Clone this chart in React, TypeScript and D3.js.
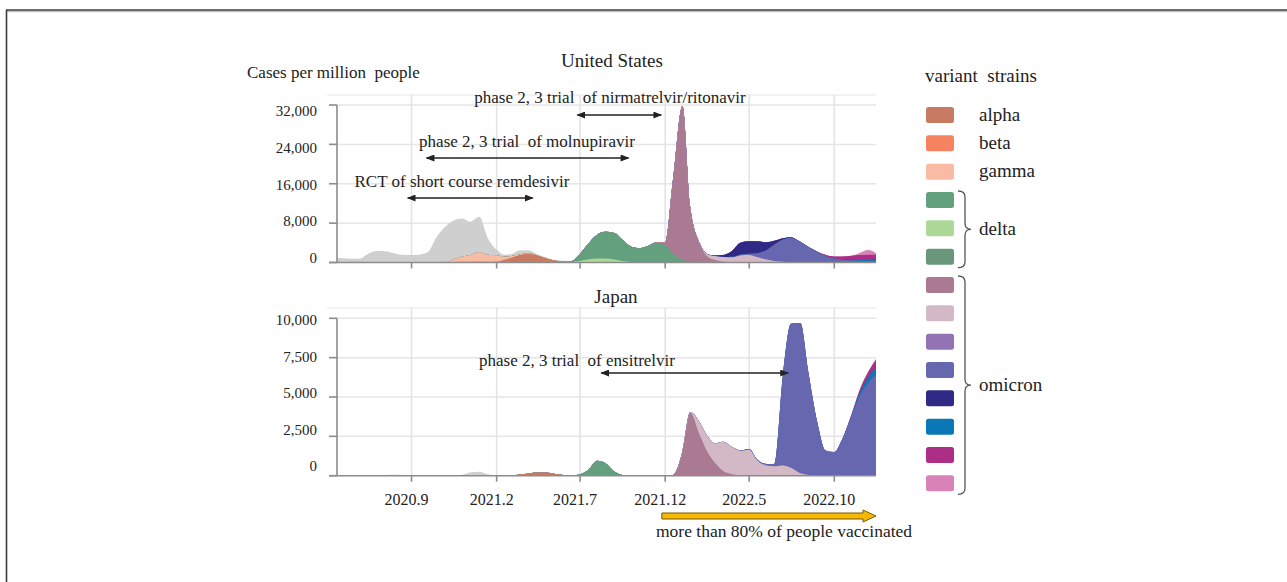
import React from 'react';
import * as d3 from 'd3';

// ---------- DATA ----------
const MONTHS = [
  '2020-04', '2020-05', '2020-06', '2020-07', '2020-08', '2020-09', '2020-10', '2020-11', '2020-12',
  '2021-01', '2021-02', '2021-03', '2021-04', '2021-05', '2021-06', '2021-07', '2021-08', '2021-09', '2021-10', '2021-11', '2021-12',
  '2022-01', '2022-02', '2022-03', '2022-04', '2022-05', '2022-06', '2022-07', '2022-08', '2022-09', '2022-10', '2022-11', '2022-12',
];
const parse = d3.timeParse('%Y-%m-%d');
const DATES: Date[] = MONTHS.flatMap((m) => [m + '-01', m + '-15']).map((s) => parse(s) as Date);

type Series = { key: string; start: number; values: number[] }; // values in thousand cases / million

const US_OTHER: Series = { key: 'other', start: 0, values: [0.9, 0.9, 0.85, 0.75, 0.8, 1.8, 2.35, 2.3, 1.9, 1.55, 1.5, 1.6, 2.2, 5.0, 7.3, 7.9, 7.8, 6.85, 7.2, 3.65, 1.2, 0.45, 0.5, 0.85, 0.6, 0.25, 0.2, 0.15, 0.15, 0.1, 0.05] };
const US_ALPHA: Series = { key: 'alpha', start: 20, values: [0.1, 0.5, 1.0, 1.5, 1.75, 1.4, 0.8, 0.4, 0.2, 0.1, 0.05] };
const US_BETA: Series = { key: 'beta', start: 15, values: [0.1, 0.15, 0.15, 0.2, 0.15, 0.1, 0.05] };
const US_GAMMA: Series = { key: 'gamma', start: 15, values: [0.5, 1.0, 1.3, 1.9, 1.4, 1.2, 0.6, 0.3, 0.15, 0.1, 0.05] };
const US_DELTA1: Series = { key: 'delta1', start: 29, values: [0.15, 1.45, 3.1, 4.9, 5.45, 5.4, 4.3, 3.1, 2.9, 3.4, 3.9, 3.5, 1.8, 0.6, 0.2, 0.05] };
const US_DELTA2: Series = { key: 'delta2', start: 30, values: [0.3, 0.6, 0.8, 0.8, 0.6, 0.3, 0.1] };
const US_OM1: Series = { key: 'om1', start: 39, values: [0.2, 0.6, 15.0, 31.2, 11.1, 3.8, 1.2, 0.5, 0.2, 0.05] };
const US_OM2: Series = { key: 'om2', start: 44, values: [0.15, 0.5, 0.8, 0.9, 1.0, 1.4, 1.5, 1.1, 0.6, 0.3, 0.15, 0.05] };
const US_OM4: Series = { key: 'om4', start: 48, values: [0.1, 0.2, 0.3, 0.8, 1.9, 3.3, 4.5, 5.0, 4.2, 3.2, 2.1, 1.3, 0.8, 0.6, 0.45, 0.35, 0.3, 0.3] };
const US_OM5: Series = { key: 'om5', start: 46, values: [0.1, 0.4, 1.3, 2.4, 2.5, 2.4, 1.6, 0.8, 0.3, 0.1] };
const US_OM6: Series = { key: 'om6', start: 62, values: [0.1, 0.15, 0.2, 0.25] };
const US_OM7: Series = { key: 'om7', start: 58, values: [0.1, 0.25, 0.4, 0.6, 0.8, 1.0, 1.1, 1.0] };
const US_OM8: Series = { key: 'om8', start: 63, values: [0.4, 0.95, 0.35] };

const JP_OTHER: Series = { key: 'other', start: 5, values: [0.01, 0.03, 0.05, 0.06, 0.04, 0.02, 0.01, 0.01, 0.01, 0.01, 0.02, 0.06, 0.2, 0.25, 0.1, 0.03] };
const JP_ALPHA: Series = { key: 'alpha', start: 22, values: [0.03, 0.08, 0.14, 0.2, 0.2, 0.12, 0.04] };
const JP_DELTA1: Series = { key: 'delta1', start: 29, values: [0.02, 0.1, 0.35, 0.95, 0.8, 0.25, 0.05] };
const JP_OM1: Series = { key: 'om1', start: 41, values: [0.05, 1.5, 4.0, 2.6, 1.5, 0.8, 0.3, 0.1, 0.03] };
const JP_OM2: Series = { key: 'om2', start: 42, values: [0.05, 0.05, 0.8, 1.0, 1.25, 1.85, 1.7, 1.55, 1.65, 1.0, 0.65, 0.6, 0.65, 0.5, 0.15, 0.05] };
const JP_OM4: Series = { key: 'om4', start: 49, values: [0.03, 0.05, 0.05, 0.1, 0.15, 5.85, 9.15, 9.55, 6.6, 3.3, 1.6, 1.5, 2.3, 3.8, 5.0, 5.9, 6.45] };
const JP_OM6: Series = { key: 'om6', start: 62, values: [0.05, 0.2, 0.35, 0.45] };
const JP_OM7: Series = { key: 'om7', start: 62, values: [0.05, 0.2, 0.35, 0.5] };

const US_SERIES = [US_OTHER, US_ALPHA, US_BETA, US_GAMMA, US_DELTA1, US_DELTA2, US_OM1, US_OM2, US_OM4, US_OM5, US_OM6, US_OM7, US_OM8];
const JP_SERIES = [JP_OTHER, JP_ALPHA, JP_DELTA1, JP_OM1, JP_OM2, JP_OM4, JP_OM6, JP_OM7];

const STACK_ORDER = ['alpha', 'beta', 'gamma', 'delta2', 'delta1', 'delta3', 'om1', 'om2', 'om4', 'om6', 'om5', 'om3', 'om7', 'om8', 'other'];

const LEGEND_KEYS = ['alpha', 'beta', 'gamma', 'delta1', 'delta2', 'delta3', 'om1', 'om2', 'om3', 'om4', 'om5', 'om6', 'om7', 'om8'];
const LEGEND_LABELS: Record<string, string> = { alpha: 'alpha', beta: 'beta', gamma: 'gamma' };
const GROUP_LABELS = [
  { label: 'delta', from: 'delta1', to: 'delta3' },
  { label: 'omicron', from: 'om1', to: 'om8' },
];

const X_TICKS = ['2020-09-01', '2021-02-01', '2021-07-01', '2021-12-01', '2022-05-01', '2022-10-01'];
const X_TICK_LABELS = ['2020.9', '2021.2', '2021.7', '2021.12', '2022.5', '2022.10'];
const US_Y_TICKS = [0, 8000, 16000, 24000, 32000];
const JP_Y_TICKS = [0, 2500, 5000, 7500, 10000];

const US_TRIALS = [
  { text: 'phase 2, 3 trial  of nirmatrelvir/ritonavir', from: '2021-06-26', to: '2021-11-24' },
  { text: 'phase 2, 3 trial  of molnupiravir', from: '2020-09-28', to: '2021-09-26' },
  { text: 'RCT of short course remdesivir', from: '2020-08-25', to: '2021-04-07' },
];
const JP_TRIALS = [{ text: 'phase 2, 3 trial  of ensitrelvir', from: '2021-08-08', to: '2022-07-10' }];
const VACCINATED = { text: 'more than 80% of people vaccinated', from: '2021-11-25' };

// ---------- STYLE ----------
const COLORS: Record<string, string> = {
  other: '#cfcfcf',
  alpha: '#c97a62',
  beta: '#f5835f',
  gamma: '#f9bba3',
  delta1: '#63a07d',
  delta2: '#acd898',
  delta3: '#6a977c',
  om1: '#a97a92',
  om2: '#d3b9c6',
  om3: '#9274b4',
  om4: '#6667ae',
  om5: '#2e2a85',
  om6: '#0a77b6',
  om7: '#ac2e86',
  om8: '#d982b7',
};
const FONT = '"Liberation Serif", "Times New Roman", serif';
const TEXT = '#222';
const PLOT_L = 337;
const PLOT_R = 876;

const xScale = d3
  .scaleTime()
  .domain([parse('2020-04-20') as Date, parse('2022-12-15') as Date])
  .range([PLOT_L, PLOT_R]);

type PanelProps = {
  id: string;
  series: Series[];
  yTicks: number[];
  yRange: [number, number];
  labelRange: [number, number];
  plotTop: number;
  title: string;
  titleX: number;
  titleY: number;
  showXLabels: boolean;
  trials: { text: string; from: string; to: string }[];
  trialLayout: { tx: number; ty: number; ay: number }[];
};

function Panel(p: PanelProps) {
  const yMax = p.yTicks[p.yTicks.length - 1];
  const y = d3.scaleLinear().domain([0, yMax]).range(p.yRange);
  const yl = d3.scaleLinear().domain([0, yMax]).range(p.labelRange);
  const base = p.yRange[0];

  const rows = DATES.map((d, i) => {
    const r: any = { date: d };
    STACK_ORDER.forEach((k) => (r[k] = 0));
    p.series.forEach((s) => {
      if (i >= s.start && i < s.start + s.values.length) r[s.key] = s.values[i - s.start] * 1000;
    });
    return r;
  });
  const present = new Set(p.series.map((s) => s.key));
  const stacked = d3.stack<any>().keys(STACK_ORDER)(rows);
  const area = d3
    .area<any>()
    .x((d) => xScale(d.data.date))
    .y0(() => base)
    .y1((d) => y(d[1]))
    .curve(d3.curveMonotoneX);

  const layers = stacked.filter((l) => present.has(l.key as string)).reverse();
  const fmt = d3.format(',');

  return (
    <g>
      <defs>
        <clipPath id={'clip-' + p.id}>
          <rect x={PLOT_L} y={p.plotTop} width={PLOT_R - PLOT_L} height={base - p.plotTop} />
        </clipPath>
      </defs>
      {/* plot top faint line */}
      <line x1={PLOT_L - 10} x2={PLOT_R} y1={p.plotTop} y2={p.plotTop} stroke="#efefef" strokeWidth={1.5} />
      {/* grid */}
      {p.yTicks.slice(1).map((t) => (
        <line key={'gy' + t} x1={PLOT_L} x2={PLOT_R} y1={y(t)} y2={y(t)} stroke="#e6e6e6" strokeWidth={1.5} />
      ))}
      {X_TICKS.map((t) => {
        const x = xScale(parse(t) as Date);
        return <line key={'gx' + t} x1={x} x2={x} y1={p.plotTop} y2={base} stroke="#e3e3e3" strokeWidth={1.5} />;
      })}
      {/* areas */}
      <g clipPath={`url(#clip-${p.id})`}>
        {layers.map((l) => (
          <path key={l.key as string} d={area(l as any) || ''} fill={COLORS[l.key as string]} />
        ))}
      </g>
      {/* axes */}
      <line x1={PLOT_L} x2={PLOT_L} y1={y(yMax)} y2={base} stroke="#8c8c8c" strokeWidth={1.6} />
      <line x1={PLOT_L - 8} x2={PLOT_R} y1={base} y2={base} stroke="#8c8c8c" strokeWidth={1.6} />
      {p.yTicks.map((t) => (
        <g key={'yt' + t}>
          <line x1={PLOT_L - 8} x2={PLOT_L} y1={y(t)} y2={y(t)} stroke="#8c8c8c" strokeWidth={1.6} />
          <text x={317} y={yl(t)} textAnchor="end" dominantBaseline="central" fontFamily={FONT} fontSize={15} fill={TEXT}>
            {fmt(t)}
          </text>
        </g>
      ))}
      {X_TICKS.map((t, i) => {
        const x = xScale(parse(t) as Date);
        return (
          <g key={'xt' + t}>
            <line x1={x} x2={x} y1={base} y2={base + 6} stroke="#8c8c8c" strokeWidth={1.6} />
            {p.showXLabels && (
              <text x={x - 5} y={base + 24} textAnchor="middle" dominantBaseline="central" fontFamily={FONT} fontSize={16} fill={TEXT}>
                {X_TICK_LABELS[i]}
              </text>
            )}
          </g>
        );
      })}
      {/* title */}
      <text x={p.titleX} y={p.titleY} textAnchor="middle" fontFamily={FONT} fontSize={19} fill={TEXT}>
        {p.title}
      </text>
      {/* trial annotations */}
      {p.trials.map((t, i) => {
        const L = p.trialLayout[i];
        return (
          <g key={'tr' + i}>
            <text x={L.tx} y={L.ty} textAnchor="middle" fontFamily={FONT} fontSize={17} fill={TEXT} style={{ whiteSpace: 'pre' }}>
              {t.text}
            </text>
            <line
              x1={xScale(parse(t.from) as Date)}
              x2={xScale(parse(t.to) as Date)}
              y1={L.ay}
              y2={L.ay}
              stroke="#222"
              strokeWidth={1.3}
              markerStart="url(#arr)"
              markerEnd="url(#arr)"
            />
          </g>
        );
      })}
    </g>
  );
}

function brace(x0: number, x1: number, x2: number, y1: number, y2: number, ym: number) {
  const r = 6;
  return `M${x0},${y1} Q${x1},${y1} ${x1},${y1 + r} L${x1},${ym - r} Q${x1},${ym} ${x2},${ym} Q${x1},${ym} ${x1},${ym + r} L${x1},${y2 - r} Q${x1},${y2} ${x0},${y2}`;
}

function Legend() {
  const top = 115;
  const step = 28.33;
  const cy = (k: string) => top + LEGEND_KEYS.indexOf(k) * step;
  return (
    <g>
      <text x={925} y={82} fontFamily={FONT} fontSize={19} fill={TEXT} style={{ whiteSpace: 'pre' }}>
        {'variant  strains'}
      </text>
      {LEGEND_KEYS.map((k) => (
        <g key={k}>
          <rect x={926} y={cy(k) - 8} width={28} height={16} rx={2.5} fill={COLORS[k]} />
          {LEGEND_LABELS[k] && (
            <text x={979} y={cy(k) + 5.5} fontFamily={FONT} fontSize={19} fill={TEXT}>
              {LEGEND_LABELS[k]}
            </text>
          )}
        </g>
      ))}
      {GROUP_LABELS.map((g) => {
        const y1 = cy(g.from) - 9;
        const y2 = cy(g.to) + 11;
        const ym = (y1 + y2) / 2;
        return (
          <g key={g.label}>
            <path d={brace(958, 965, 971, y1, y2, ym)} fill="none" stroke="#555" strokeWidth={1.3} />
            <text x={979} y={ym + 5.5} fontFamily={FONT} fontSize={19} fill={TEXT}>
              {g.label}
            </text>
          </g>
        );
      })}
    </g>
  );
}

export default function App() {
  const vx0 = xScale(parse(VACCINATED.from) as Date);
  const vx1 = PLOT_R;
  const vy = 516;
  const head = 13;
  return (
    <svg width={1287} height={582} style={{ position: 'absolute', left: 0, top: 0, background: '#fff' }}>
      <defs>
        <marker id="arr" viewBox="0 0 10 8" refX={9} refY={4} markerWidth={9} markerHeight={7} markerUnits="userSpaceOnUse" orient="auto-start-reverse">
          <path d="M0,0 L10,4 L0,8 z" fill="#222" />
        </marker>
      </defs>
      <rect x={0} y={0} width={1287} height={582} fill="#fff" />
      {/* frame */}
      <line x1={6} x2={1287} y1={10} y2={10} stroke="#3a3a3a" strokeWidth={1.6} />
      <line x1={6} x2={1287} y1={11.6} y2={11.6} stroke="#b5b5b5" strokeWidth={1} />
      <line x1={6.5} x2={6.5} y1={10} y2={582} stroke="#3a3a3a" strokeWidth={1.6} />

      <text x={247} y={78} fontFamily={FONT} fontSize={17} fill={TEXT} style={{ whiteSpace: 'pre' }}>
        {'Cases per million  people'}
      </text>

      <Panel
        id="us"
        series={US_SERIES}
        yTicks={US_Y_TICKS}
        yRange={[262.5, 105]}
        labelRange={[258, 111]}
        plotTop={95}
        title="United States"
        titleX={612}
        titleY={67}
        showXLabels={false}
        trials={US_TRIALS}
        trialLayout={[
          { tx: 610, ty: 103, ay: 115 },
          { tx: 527, ty: 147, ay: 158 },
          { tx: 462, ty: 187, ay: 198 },
        ]}
      />
      <Panel
        id="jp"
        series={JP_SERIES}
        yTicks={JP_Y_TICKS}
        yRange={[475.7, 318.3]}
        labelRange={[466, 320]}
        plotTop={308}
        title="Japan"
        titleX={616}
        titleY={303}
        showXLabels={true}
        trials={JP_TRIALS}
        trialLayout={[{ tx: 577, ty: 366, ay: 373 }]}
      />

      {/* vaccination arrow */}
      <polygon
        points={[
          [vx0, vy - 3],
          [vx1 - head, vy - 3],
          [vx1 - head, vy - 6],
          [vx1, vy],
          [vx1 - head, vy + 6],
          [vx1 - head, vy + 3],
          [vx0, vy + 3],
        ]
          .map((p) => p.join(','))
          .join(' ')}
        fill="#f6b800"
        stroke="#7a5a00"
        strokeWidth={1}
      />
      <text x={784} y={537} textAnchor="middle" fontFamily={FONT} fontSize={17.5} fill={TEXT}>
        {VACCINATED.text}
      </text>

      <Legend />
    </svg>
  );
}
